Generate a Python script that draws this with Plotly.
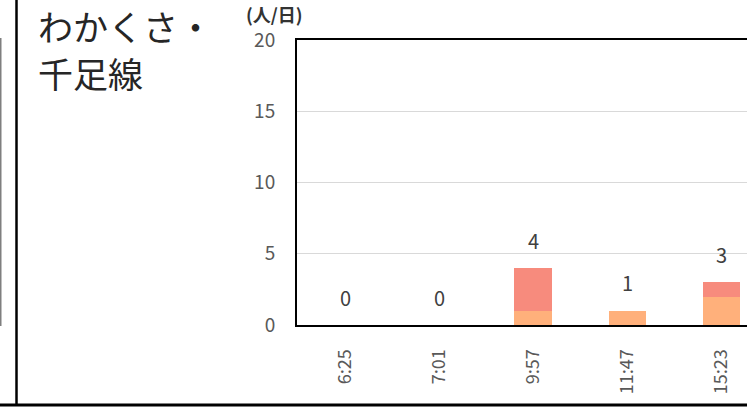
import plotly.graph_objects as go

categories = ["6:25", "7:01", "9:57", "11:47", "15:23"]
series_lower = [0, 0, 1, 1, 2]
series_upper = [0, 0, 3, 0, 1]
totals = [a + b for a, b in zip(series_lower, series_upper)]
title_lines = ["わかくさ・", "千足線"]
unit_label = "(人/日)"

FONT = "Noto Sans CJK JP"
W, H = 747, 408
ML, MR, MT, MB = 297, 0, 40, 83
PW = W - ML - MR
PH = H - MT - MB

def px_x(px):
    return (px - ML) / PW

def px_y(py):
    return (H - MB - py) / PH

fig = go.Figure()
fig.add_trace(go.Bar(x=categories, y=series_lower, width=0.4,
                     marker=dict(color="#FFB07B", line=dict(width=0)),
                     showlegend=False, hoverinfo="skip"))
fig.add_trace(go.Bar(x=categories, y=series_upper, width=0.4,
                     marker=dict(color="#F78B7D", line=dict(width=0)),
                     showlegend=False, hoverinfo="skip"))

for c, t in zip(categories, totals):
    fig.add_annotation(x=c, y=t, text=str(t), showarrow=False, yshift=28,
                       yanchor="middle", font=dict(family=FONT, size=20, color="#404040"))

for line, cy in zip(title_lines, [25, 72]):
    fig.add_annotation(xref="paper", yref="paper", x=px_x(36), y=px_y(cy), xanchor="left", yanchor="middle",
                       text=line, showarrow=False, align="left",
                       font=dict(family=FONT, size=35, color="#262626"))
fig.add_annotation(xref="paper", yref="paper", x=px_x(304), y=px_y(14), xanchor="right", yanchor="middle",
                   text="<b>" + unit_label + "</b>", showarrow=False, borderpad=0,
                   font=dict(family=FONT, size=18, color="#333333"))

# surrounding frame lines
fig.add_shape(type="line", xref="paper", yref="paper", x0=px_x(16.5), x1=px_x(16.5),
              y0=px_y(0), y1=px_y(405), line=dict(color="black", width=2.5))
fig.add_shape(type="line", xref="paper", yref="paper", x0=px_x(0.5), x1=px_x(0.5),
              y0=px_y(38), y1=px_y(326), line=dict(color="#7f7f7f", width=2))
fig.add_shape(type="line", xref="paper", yref="paper", x0=px_x(0), x1=px_x(747),
              y0=px_y(405), y1=px_y(405), line=dict(color="black", width=3))

fig.update_layout(
    width=W, height=H, barmode="stack", bargap=0.6,
    margin=dict(l=ML, r=MR, t=MT, b=MB, pad=0),
    plot_bgcolor="white", paper_bgcolor="white",
    font=dict(family=FONT),
    xaxis=dict(type="category", range=[-0.51, 4.27], showline=True, linecolor="black", linewidth=2,
               mirror=True, showgrid=False, tickangle=-90, ticks="outside", ticklen=15,
               tickcolor="rgba(0,0,0,0)", tickfont=dict(family=FONT, size=18, color="#595959")),
    yaxis=dict(range=[0, 20], dtick=5, showline=True, linecolor="black", linewidth=2,
               showgrid=True, gridcolor="#d9d9d9", gridwidth=1, zeroline=False,
               ticks="outside", ticklen=16, tickcolor="rgba(0,0,0,0)",
               tickfont=dict(family=FONT, size=19, color="#595959")),
)

fig.write_html("out.html", config={"displayModeBar": False},
               post_script="document.body.style.margin='0';document.body.style.overflow='hidden';")
